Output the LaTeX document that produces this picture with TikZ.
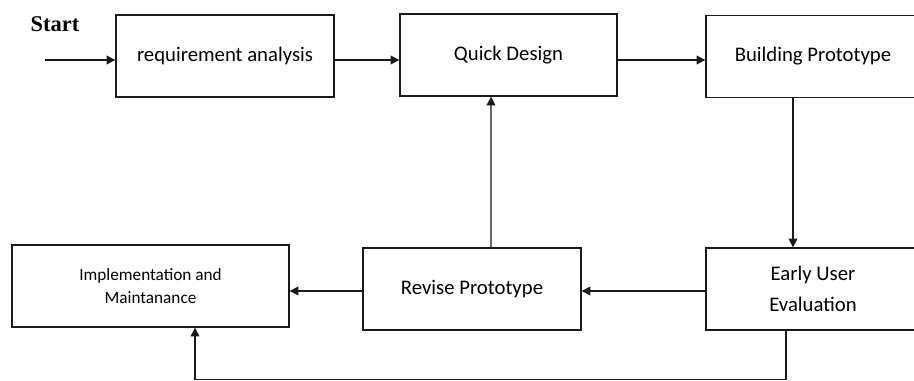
\documentclass[tikz,border=0pt]{standalone}
\usepackage{fontspec}
\setmainfont{Carlito}
\newfontfamily\startfont{Liberation Serif}
\usepackage{xcolor}
\usepackage{tikz}
\usetikzlibrary{arrows.meta, positioning}
\definecolor{edge}{HTML}{1A1A1A}

\begin{document}
\begin{tikzpicture}[
    x=0.02cm, y=-0.02cm,
    block/.style={rectangle, draw=edge, fill=white, line width=0.8pt, align=center, inner sep=0pt, minimum width=4.36cm, minimum height=1.64cm, font=\fontsize{11.8}{17.6}\selectfont},
    smallblock/.style={block, minimum width=5.54cm, font=\fontsize{9.8}{13}\selectfont},
    arrow/.style={-{Triangle[length=5pt, width=5pt]}, line width=0.8pt, color=edge}
]
\clip (0,0) rectangle (914,381);
\fill[white] (0,0) rectangle (914,381);

\node[font=\startfont\bfseries\fontsize{12.8}{14}\selectfont] (startlbl) at (55,24) {Start};
\coordinate (start) at (45,60);

\node[block] (req) at (225,56) {requirement analysis};
\node[block, minimum width=4.34cm] (quick) at (508.5,55) {Quick Design};
\node[block, minimum width=4.28cm] (build) at (813,56.5) {Building Prototype};

\node[smallblock] (impl) at (150.5,286) {Implementation and\\Maintanance};
\node[block] (revise) at (472,289) {Revise Prototype};
\node[block, minimum width=4.28cm] (early) at (813,289) {Early User\\Evaluation};

\coordinate (back) at (0,291);
\coordinate (low) at (0,379.5);
\coordinate (feed) at ([xshift=0.89cm]impl.south);

\draw[arrow] (start) -- (start -| req.west);
\draw[arrow] (req.east |- start) -- (quick.west |- start);
\draw[arrow] (quick.east |- start) -- (build.west |- start);
\draw[arrow] ([xshift=-0.4cm]build.south) -- ([xshift=-0.4cm]early.north);
\draw[arrow] (early.west |- back) -- (revise.east |- back);
\draw[arrow] ([xshift=0.38cm]revise.north) -- ([xshift=-0.35cm]quick.south);
\draw[arrow] (revise.west |- back) -- (impl.east |- back);
\draw[arrow] ([xshift=-0.54cm]early.south) |- (feed |- low) -- (feed);
\end{tikzpicture}
\end{document}
